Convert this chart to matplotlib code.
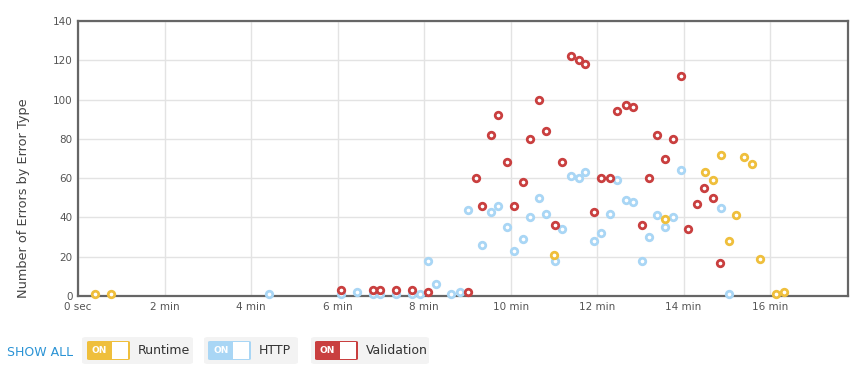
import numpy as np
import matplotlib
matplotlib.use('Agg')
import matplotlib.pyplot as plt
from matplotlib.patches import FancyBboxPatch, Rectangle

# time in minutes, counts per error type
runtime_t = [0.39, 0.76, 11.01, 13.57, 14.49, 14.67, 14.86, 15.04, 15.22, 15.40, 15.58, 15.77, 16.14, 16.32]
runtime_n = [1, 1, 21, 39, 63, 59, 72, 28, 41, 71, 67, 19, 1, 2]

http_t = [4.42, 6.07, 6.44, 6.81, 6.97, 7.34, 7.71, 7.90, 8.08, 8.27, 8.63, 8.82, 9.01,
          9.35, 9.54, 9.72, 9.91, 10.09, 10.28, 10.46, 10.65, 10.83, 11.02, 11.20, 11.39,
          11.57, 11.73, 11.92, 12.10, 12.29, 12.47, 12.66, 12.84, 13.03, 13.21, 13.39,
          13.58, 13.76, 13.95, 14.86, 15.04]
http_n = [1, 1, 2, 1, 1, 1, 1, 1, 18, 6, 1, 2, 44,
          26, 43, 46, 35, 23, 29, 40, 50, 42, 18, 34, 61,
          60, 63, 28, 32, 42, 59, 49, 48, 18, 30, 41,
          35, 40, 64, 45, 1]

valid_t = [6.07, 6.81, 6.97, 7.34, 7.71, 8.08, 9.01, 9.19, 9.35, 9.54, 9.72, 9.91, 10.09,
           10.28, 10.46, 10.65, 10.83, 11.02, 11.20, 11.39, 11.57, 11.73, 11.92, 12.10,
           12.29, 12.47, 12.66, 12.84, 13.03, 13.21, 13.39, 13.58, 13.76, 13.95, 14.11,
           14.30, 14.48, 14.67, 14.85]
valid_n = [3, 3, 3, 3, 3, 2, 2, 60, 46, 82, 92, 68, 46,
           58, 80, 100, 84, 36, 68, 122, 120, 118, 43, 60,
           60, 94, 97, 96, 36, 60, 82, 70, 80, 112, 34,
           47, 55, 50, 17]

xticks = [0, 2, 4, 6, 8, 10, 12, 14, 16]
xlabels = ['0 sec', '2 min', '4 min', '6 min', '8 min', '10 min', '12 min', '14 min', '16 min']
yticks = [0, 20, 40, 60, 80, 100, 120, 140]

c_run = '#efbf3c'
c_http = '#a9d6f5'
c_val = '#c93f3f'

fig = plt.figure(figsize=(8.57, 3.75), dpi=100)
ax = fig.add_axes([78/857, 79/375, 770/857, 275/375])

for t, n, c in [(http_t, http_n, c_http), (runtime_t, runtime_n, c_run), (valid_t, valid_n, c_val)]:
    ax.scatter(t, n, s=22, facecolors='white', edgecolors=c, linewidths=2.0, zorder=3, clip_on=False)

ax.set_xlim(0, 17.8)
ax.set_ylim(0, 140)
ax.set_xticks(xticks)
ax.set_xticklabels(xlabels)
ax.set_yticks(yticks)
ax.grid(True, color='#e3e3e3', lw=1)
ax.set_axisbelow(True)
for s in ax.spines.values():
    s.set_color('#666666')
    s.set_linewidth(1.6)
ax.tick_params(length=0, labelsize=7.5, colors='#555555', pad=4)
ax.set_ylabel('Number of Errors by Error Type', fontsize=9.3, color='#444444')
ax.yaxis.set_label_coords(-0.062, 0.357)

# legend toggles along the bottom
fig.text(7/857, 1 - 352/375, 'SHOW ALL', color='#2a93d5', fontsize=9, va='center', ha='left')
items = [('Runtime', c_run, 82, 193, 87, 138), ('HTTP', c_http, 204, 298, 208, 259),
         ('Validation', c_val, 311, 429, 315, 366)]
H = 375.0
W = 857.0
for label, col, bx0, bx1, tx0, lx in items:
    fig.patches.append(FancyBboxPatch((bx0/W, 1 - 364/H), (bx1-bx0)/W, 27/H,
                                      boxstyle='round,pad=0,rounding_size=0.005',
                                      transform=fig.transFigure, fc='#f3f3f3', ec='none'))
    fig.patches.append(FancyBboxPatch((tx0/W, 1 - 360/H), 43/W, 19/H,
                                      boxstyle='round,pad=0,rounding_size=0.003',
                                      transform=fig.transFigure, fc=col, ec='none'))
    fig.patches.append(Rectangle(((tx0+25)/W, 1 - 359/H), 16/W, 17/H,
                                 transform=fig.transFigure, fc='white', ec='none'))
    fig.text((tx0+5)/W, 1 - 350.5/H, 'ON', color='white', fontsize=6.5, fontweight='bold',
             va='center', ha='left')
    fig.text(lx/W, 1 - 351/H, label, color='#333333', fontsize=9, va='center', ha='left')

fig.savefig('out.png', dpi=100)
